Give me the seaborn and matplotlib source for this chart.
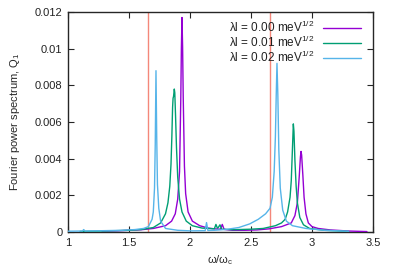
import pandas as pd
import matplotlib
matplotlib.use("Agg")
import matplotlib.pyplot as plt
import seaborn as sns

# values
x_00 = [1.28, 1.4, 1.5, 1.6, 1.7, 1.8, 1.85, 1.88, 1.9, 1.915, 1.925, 1.93, 1.935,
        1.94, 1.945, 1.955, 1.965, 1.985, 2.02, 2.08, 2.15, 2.2, 2.25, 2.265, 2.28,
        2.35, 2.45, 2.55, 2.65, 2.75, 2.83, 2.86, 2.88, 2.895, 2.905, 2.91, 2.915,
        2.925, 2.935, 2.95, 2.97, 3.0, 3.05, 3.15, 3.3, 3.45]
y_00 = [0.00005, 0.00007, 0.0001, 0.00013, 0.0002, 0.00035, 0.0006, 0.001, 0.0018,
        0.0033, 0.0072, 0.0100, 0.0117, 0.0101, 0.0074, 0.0036, 0.0021, 0.0011,
        0.0006, 0.00035, 0.00022, 0.00018, 0.00016, 0.00042, 0.00015, 0.0001,
        0.0001, 0.00012, 0.00018, 0.0003, 0.0005, 0.0009, 0.0016, 0.0030, 0.0041,
        0.0044, 0.0042, 0.0031, 0.0019, 0.0010, 0.0005, 0.0003, 0.0002, 0.00012,
        0.00006, 0.00003]

x_01 = [1.1, 1.3, 1.5, 1.6, 1.7, 1.76, 1.80, 1.82, 1.835, 1.845, 1.852, 1.858, 1.862,
        1.866, 1.872, 1.876, 1.882, 1.89, 1.90, 1.915, 1.935, 1.97, 2.02, 2.1, 2.2,
        2.213, 2.225, 2.232, 2.246, 2.26, 2.35, 2.5, 2.6, 2.7, 2.75, 2.78, 2.80,
        2.82, 2.83, 2.84, 2.847, 2.852, 2.86, 2.87, 2.88, 2.90, 2.93, 2.98, 3.1, 3.3]
y_01 = [0.00004, 0.00006, 0.0001, 0.00014, 0.00025, 0.0005, 0.0010, 0.0016, 0.0025,
        0.0037, 0.0052, 0.0068, 0.0073, 0.0074, 0.0078, 0.0076, 0.0064, 0.0046,
        0.0030, 0.0018, 0.0011, 0.0006, 0.00035, 0.00022, 0.00018, 0.00042,
        0.00022, 0.00025, 0.0004, 0.00016, 0.00013, 0.00016, 0.0002, 0.00035,
        0.0005, 0.0007, 0.0011, 0.0019, 0.0028, 0.0046, 0.0059, 0.0055, 0.0039,
        0.0025, 0.0016, 0.0008, 0.0004, 0.0002, 0.0001, 0.00004]

x_02 = [1.0, 1.12, 1.13, 1.14, 1.3, 1.45, 1.55, 1.62, 1.66, 1.69, 1.70, 1.71, 1.716,
        1.722, 1.728, 1.734, 1.745, 1.76, 1.8, 1.9, 2.0, 2.125, 2.136, 2.147, 2.2,
        2.3, 2.4, 2.49, 2.56, 2.62, 2.656, 2.675, 2.69, 2.70, 2.707, 2.713, 2.72,
        2.728, 2.74, 2.76, 2.79, 2.84, 2.95, 3.1, 3.3]
y_02 = [0.00005, 0.00006, 0.00014, 0.00006, 0.00008, 0.0001, 0.00014, 0.0002, 0.0003,
        0.0007, 0.0011, 0.0024, 0.0048, 0.0088, 0.0052, 0.0026, 0.0013, 0.0006,
        0.0002, 0.0001, 0.00007, 0.00008, 0.00052, 0.00009, 0.0001, 0.00015,
        0.00025, 0.00045, 0.0007, 0.001, 0.0013, 0.0019, 0.0033, 0.0052, 0.0075,
        0.0092, 0.0075, 0.0045, 0.0024, 0.0012, 0.0006, 0.00035, 0.0002, 0.0001,
        0.00005]

labels = ["λl = 0.00 meV$^{1/2}$", "λl = 0.01 meV$^{1/2}$", "λl = 0.02 meV$^{1/2}$"]
colors = ["#9400d3", "#009e73", "#56b4e9"]
vlines = [1.653, 2.656]

df = pd.concat([
    pd.DataFrame({"w": x_00, "Q": y_00, "lam": labels[0]}),
    pd.DataFrame({"w": x_01, "Q": y_01, "lam": labels[1]}),
    pd.DataFrame({"w": x_02, "Q": y_02, "lam": labels[2]}),
], ignore_index=True)

sns.set_style("ticks")
plt.rcParams["font.family"] = ["Liberation Sans", "DejaVu Sans"]
plt.rcParams["mathtext.fontset"] = "custom"
plt.rcParams["mathtext.rm"] = "Liberation Sans"
plt.rcParams["mathtext.it"] = "Liberation Sans"
plt.rcParams["text.color"] = "#222222"

fig = plt.figure(figsize=(3.99, 2.79), dpi=100)
ax = fig.add_axes([0.170, 0.168, 0.765, 0.789])

for v in vlines:
    ax.axvline(v, color="#f4877a", lw=1.0, zorder=1)

sns.lineplot(data=df, x="w", y="Q", hue="lam", palette=colors, estimator=None,
             sort=False, lw=1.0, ax=ax, zorder=3)

ax.set_xlim(1, 3.5)
ax.set_ylim(0, 0.012)
ax.set_xticks([1, 1.5, 2, 2.5, 3, 3.5])
ax.set_xticklabels(["1", "1.5", "2", "2.5", "3", "3.5"])
ax.set_yticks([0, 0.002, 0.004, 0.006, 0.008, 0.01, 0.012])
ax.set_yticklabels(["0", "0.002", "0.004", "0.006", "0.008", "0.01", "0.012"])
ax.tick_params(direction="in", top=True, right=True, labelsize=8, length=4,
               width=0.8, pad=4, labelcolor="#222222")
for s in ax.spines.values():
    s.set_linewidth(1.0)
    s.set_visible(True)

ax.set_xlabel("ω/ω$_\\mathrm{c}$", fontsize=8, labelpad=4)
ax.set_ylabel("Fourier power spectrum, Q$_\\mathrm{1}$", fontsize=8, labelpad=9)

ax.legend(loc="upper right", bbox_to_anchor=(0.985, 1.0), frameon=False,
          markerfirst=False, fontsize=8.5, handlelength=3.2, labelspacing=0.0,
          handletextpad=0.7, borderaxespad=0.25)

fig.savefig("out.png", dpi=100)
